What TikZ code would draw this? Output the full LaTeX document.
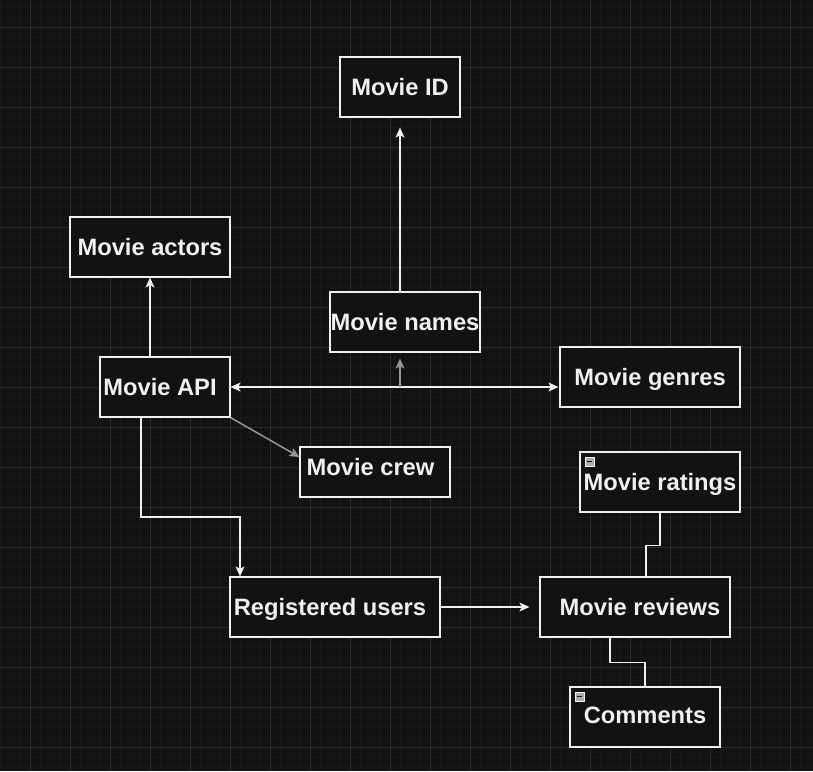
\documentclass[tikz,border=0pt]{standalone}
\usepackage{fontspec}
\setmainfont{Liberation Sans}
\usepackage{tikz}
\usetikzlibrary{positioning,arrows.meta}

\definecolor{bgcol}{RGB}{18,18,18}
\definecolor{minorcol}{RGB}{24,24,24}
\definecolor{majorcol}{RGB}{44,44,44}
\definecolor{inkcol}{RGB}{240,240,240}
\definecolor{greycol}{RGB}{150,150,150}

\tikzset{
    tip/.style = {-{Stealth[length=10pt,width=9pt,inset=2.5pt]}},
    box/.style = {draw = inkcol, fill = bgcol, line width = 1.2pt, inner sep = 0pt,
                  text = inkcol, font = \fontsize{23.7}{28}\selectfont\bfseries,
                  text height = 17pt, text depth = 0pt},
    arr/.style = {draw = inkcol, line width = 1.2pt, tip},
    arrgrey/.style = {arr, draw = greycol, line width = 1.5pt},
    link/.style = {draw = inkcol, line width = 1.2pt},
    icon/.style = {draw = inkcol, fill = greycol!80!white, line width = 0.8pt}
}

\begin{document}
\begin{tikzpicture}[x=1pt, y=-1pt]
    % background and grid
    \fill[bgcol] (0,0) rectangle (813,771);
    \useasboundingbox (0,0) rectangle (813,771);
    \foreach \x in {0,10,...,810} \draw[minorcol, line width=0.7pt] (\x,0) -- (\x,771);
    \foreach \y in {7,17,...,767} \draw[minorcol, line width=0.7pt] (0,\y) -- (813,\y);
    \foreach \x in {30,70,...,790} \draw[majorcol, line width=1pt] (\x,0) -- (\x,771);
    \foreach \y in {27,67,...,747} \draw[majorcol, line width=1pt] (0,\y) -- (813,\y);

    % entities
    \node[box, minimum width=120pt, minimum height=60pt] (id) at (400,87) {Movie ID};
    \node[box, minimum width=160pt, minimum height=60pt] (actors) at (150,247) {Movie actors};
    \node[box, minimum width=150pt, minimum height=60pt] (names) at (405,322) {Movie names};
    \node[box, minimum width=130pt, minimum height=60pt] (api) at (165,387) {Movie API\kern10pt};
    \node[box, minimum width=180pt, minimum height=60pt] (genres) at (650,377) {Movie genres};
    \node[box, minimum width=150pt, minimum height=50pt, text depth=10pt] (crew) at (375,472) {Movie crew\kern9pt};
    \node[box, minimum width=160pt, minimum height=60pt] (ratings) at (660,482) {Movie ratings};
    \node[box, minimum width=210pt, minimum height=60pt] (users) at (335,607) {Registered users\kern10pt};
    \node[box, minimum width=190pt, minimum height=60pt] (reviews) at (635,607) {\kern10pt Movie reviews};
    \node[box, minimum width=150pt, minimum height=60pt, text depth=4pt] (comments) at (645,717) {Comments};

    % collapse icons
    \draw[icon] (585,457) rectangle (594,466);
    \draw[bgcol, line width=1.4pt] (587,461.5) -- (592,461.5);
    \draw[icon] (575,692) rectangle (584,701);
    \draw[bgcol, line width=1.4pt] (577,696.5) -- (582,696.5);

    % connectors
    \coordinate (split) at (400,387);
    \coordinate (bend) at (240,517);
    \draw[arr] (actors.south |- api.north) -- (actors.south);
    \draw[arr, shorten >=10pt] (names.north -| split) -- (id.south);
    \draw[arr, {Stealth[length=10pt,width=9pt,inset=2.5pt]}-{Stealth[length=10pt,width=9pt,inset=2.5pt]}, shorten >=1pt] (api.east) -- (api.east -| genres.west);
    \draw[arrgrey, shorten >=6pt] (split) -- (split |- names.south);
    \draw[arrgrey] (api.south east) -- ([yshift=15pt]crew.west);
    \draw[arr] ([xshift=-24pt]api.south) |- (bend) -- ([xshift=-95pt]users.north);
    \draw[arr, shorten >=10pt] (users.east) -- (reviews.west);
    \draw[link] (ratings.south) -- ++(0,33) -| ([xshift=11pt]reviews.north);
    \draw[link] ([xshift=-25pt]reviews.south) -- ++(0,25) -| (comments.north);
\end{tikzpicture}
\end{document}
